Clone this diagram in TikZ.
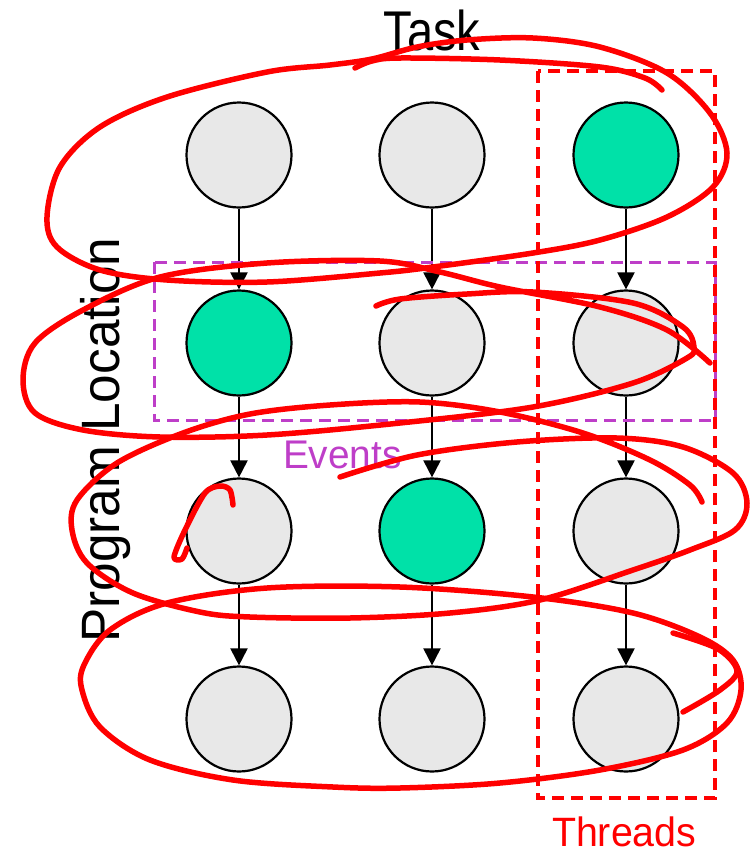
\documentclass[tikz,border=0pt]{standalone}
\usepackage{fontspec}
\setmainfont{Liberation Sans}
\usetikzlibrary{arrows.meta}
\definecolor{nodegray}{RGB}{232,232,232}
\definecolor{evgreen}{RGB}{0,225,168}
\definecolor{evmag}{RGB}{190,62,200}
\definecolor{pen}{RGB}{255,0,0}
\begin{document}
\begin{tikzpicture}[x=1pt,y=-1pt,
  ev/.style={circle, draw=black, line width=2.2pt, minimum size=105pt, inner sep=0pt, fill=nodegray},
  hit/.style={ev, fill=evgreen},
  flow/.style={line width=2pt, -{Triangle[width=17pt,length=17pt]}},
  threadbox/.style={draw=pen, line width=3.5pt, dash pattern=on 12pt off 7pt},
  eventbox/.style={draw=evmag, line width=3pt, dash pattern=on 12pt off 7pt},
  ink/.style={draw=pen, line width=5.5pt, line cap=round, line join=round},
  lbl/.style={inner sep=0pt, outer sep=0pt, text depth=0pt},
]
\useasboundingbox (0,0) rectangle (751,855);

% nodes
\node[ev]  (n11) at (239,155) {};
\node[ev]  (n12) at (432,155) {};
\node[hit] (n13) at (626,155) {};
\node[hit] (n21) at (239,343) {};
\node[ev]  (n22) at (432,343) {};
\node[ev]  (n23) at (626,343) {};
\node[ev]  (n31) at (239,531) {};
\node[hit] (n32) at (432,531) {};
\node[ev]  (n33) at (626,531) {};
\node[ev]  (n41) at (239,719) {};
\node[ev]  (n42) at (432,719) {};
\node[ev]  (n43) at (626,719) {};

\foreach \c in {1,2,3}{
  \draw[flow] (n1\c) -- (n2\c);
  \draw[flow] (n2\c) -- (n3\c);
  \draw[flow] (n3\c) -- (n4\c);
}

% boxes
\draw[eventbox] (154,262) rectangle (715,420);
\draw[threadbox] (538,71) rectangle (715,798);

% labels
\node[lbl, anchor=base] (task) at (432,50) {\scalebox{0.84}[1]{\fontsize{56}{60}\selectfont Task}};
\node[lbl, anchor=base, rotate=90] (ploc) at (119,440) {\scalebox{0.95}[1]{\fontsize{54}{60}\selectfont Program Location}};
\node[lbl, anchor=base west, text=evmag] (events) at (283,468) {\scalebox{0.97}[1]{\fontsize{40}{44}\selectfont Events}};
\node[lbl, anchor=base west, text=pen] (threads) at (552,846) {\scalebox{0.96}[1]{\fontsize{41}{44}\selectfont Threads}};

% hand-drawn strokes
\draw[ink] plot[smooth, tension=0.55] coordinates {(355,68) (372,61) (400,58) (500,60) (600,67) (645,78) (662,90)};
\draw[ink] plot[smooth cycle, tension=0.55] coordinates {(417,47) (467,40) (533,38) (600,47) (667,73) (710,113) (727,153) (713,187) (667,217) (600,240) (533,253) (433,267) (380,273) (267,282) (167,280) (100,270) (57,247) (47,217) (60,167) (100,127) (167,97) (267,72) (330,65) (372,59)};
\draw[ink] plot[smooth, tension=0.55] coordinates {(376,306) (400,299) (467,294) (533,292) (633,303) (683,327) (694,347) (687,358) (633,383) (533,407) (400,423) (267,435) (160,437) (83,430) (35,413) (23,380) (35,343) (83,310) (160,277) (267,263) (380,261) (440,272) (500,287) (600,307) (667,330) (710,363)};
\draw[ink] plot[smooth, tension=0.55] coordinates {(340,477) (417,455) (517,442) (617,438) (683,447) (733,473) (747,503) (735,530) (690,550) (633,570) (540,600) (450,613) (350,618) (250,617) (200,612) (133,593) (87,563) (72,530) (77,500) (117,463) (183,433) (250,414) (330,405) (420,402) (500,412) (583,433) (650,460) (690,485) (702,502)};
\draw[ink] plot[smooth cycle, tension=0.55] coordinates {(400,587) (533,597) (633,613) (700,637) (733,660) (741,690) (727,723) (683,750) (600,770) (500,783) (400,788) (333,787) (233,780) (150,760) (100,727) (82,690) (84,665) (110,630) (167,603) (267,588)};
\draw[ink] plot[smooth, tension=0.55] coordinates {(673,633) (718,649) (737,671) (720,690) (683,712)};
\draw[ink] plot[smooth, tension=0.5] coordinates {(233,505) (230,490) (220,486) (205,493) (185,530) (174,557) (182,559) (187,548)};
\end{tikzpicture}
\end{document}
